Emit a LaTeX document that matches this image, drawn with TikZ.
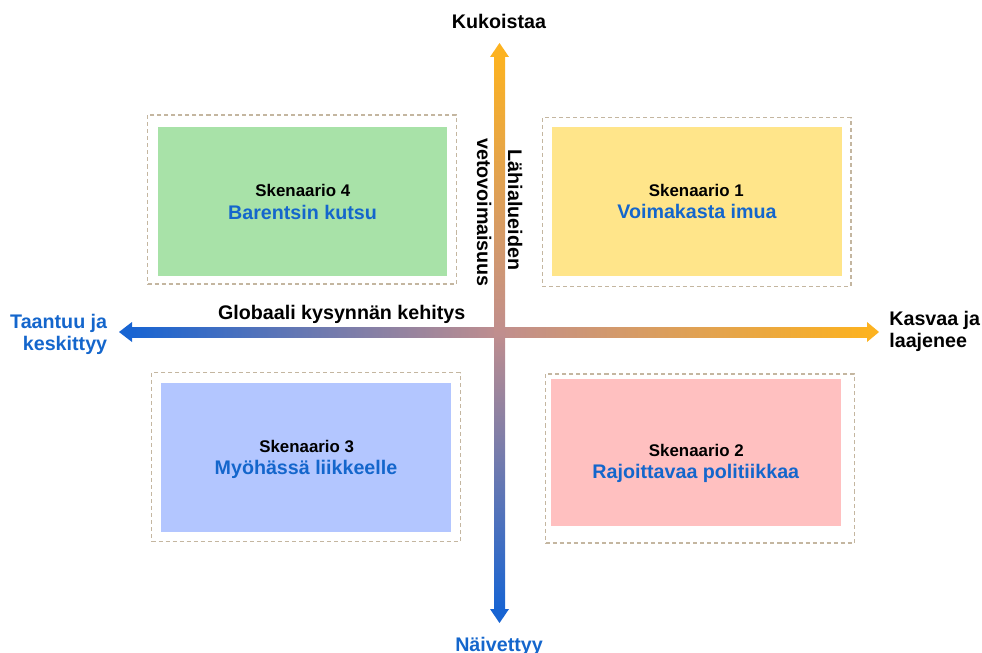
\documentclass[tikz,border=0pt]{standalone}
\usepackage{fontspec}
\setmainfont{Liberation Sans}
\usepackage{xcolor}
\usepackage{tikz}
\usetikzlibrary{calc}
\definecolor{axisorange}{RGB}{252, 178, 32}
\definecolor{axisblue}{RGB}{24, 100, 210}
\definecolor{axismid}{RGB}{192, 142, 142}
\definecolor{titleblue}{RGB}{20, 102, 204}
\definecolor{frametan}{RGB}{196, 182, 160}
\definecolor{scengreen}{RGB}{168, 226, 168}
\definecolor{scenyellow}{RGB}{255, 229, 138}
\definecolor{scenblue}{RGB}{179, 198, 255}
\definecolor{scenpink}{RGB}{255, 192, 192}
\tikzset{
    scenframe/.style={
        draw=frametan, line width=0.6pt, dash pattern=on 2.3pt off 1.7pt,
        minimum width=6.18cm, minimum height=3.38cm, inner sep=0pt
    },
    scenbox/.style={
        minimum width=5.80cm, minimum height=2.98cm, inner sep=0pt
    },
    scentag/.style={
        font=\bfseries\fontsize{9.6}{11}\selectfont, anchor=base, inner sep=0pt
    },
    scentitle/.style={
        font=\bfseries\fontsize{11.2}{13}\selectfont, text=titleblue, anchor=base, inner sep=0pt
    },
    axislabel/.style={
        font=\bfseries\fontsize{11.2}{12.5}\selectfont, inner sep=0pt
    }
}

\begin{document}
\begin{tikzpicture}[x=0.02cm, y=-0.02cm]
        \useasboundingbox (0,0) rectangle (982,652);

        % --- 1. SKENAARIOT ---
        \node[scenframe] (s4frame) at (302,199.5) {};
        \node[scenbox, fill=scengreen] (s4box) at (302.5,201.5) {};
        \node[scentag] (s4tag) at (302.8,196.7) {Skenaario 4};
        \node[scentitle] (s4title) at (302.5,219.3) {Barentsin kutsu};

        \node[scenframe] (s1frame) at (696.5,202) {};
        \node[scenbox, fill=scenyellow] (s1box) at (697,201.5) {};
        \node[scentag] (s1tag) at (696.3,196.7) {Skenaario 1};
        \node[scentitle] (s1title) at (697,218.3) {Voimakasta imua};

        \node[scenframe] (s3frame) at (306,457) {};
        \node[scenbox, fill=scenblue] (s3box) at (306,457.5) {};
        \node[scentag] (s3tag) at (306.7,452.7) {Skenaario 3};
        \node[scentitle] (s3title) at (306,474.3) {Myöhässä liikkeelle};

        \node[scenframe] (s2frame) at (700,458.5) {};
        \node[scenbox, fill=scenpink, minimum height=2.94cm] (s2box) at (696,452.5) {};
        \node[scentag] (s2tag) at (696.3,456) {Skenaario 2};
        \node[scentitle] (s2title) at (695.8,478.3) {Rajoittavaa politiikkaa};

        % --- 2. AKSELIT ---
        \coordinate (hleft) at (119,332);
        \coordinate (hright) at (879,332);
        \coordinate (vtop) at (499.5,43);
        \coordinate (vbot) at (499.5,623);

        % vaaka-akseli (sininen -> oranssi)
        \shade[left color=axisblue, right color=axisorange, middle color=axismid]
            ($(hleft)+(13,-5)$) rectangle ($(hright)+(-12,5)$);
        \fill[axisblue] (hleft) -- ++(13,-10) -- ++(0,20) -- cycle;
        \fill[axisorange] (hright) -- ++(-12,-10) -- ++(0,20) -- cycle;

        % pystyakseli (oranssi -> sininen)
        \shade[top color=axisorange, bottom color=axisblue, middle color=axismid]
            ($(vtop)+(-5.5,14)$) rectangle ($(vbot)+(5.5,-14)$);
        \fill[axisorange] (vtop) -- ++(-9.5,14) -- ++(19,0) -- cycle;
        \fill[axisblue] (vbot) -- ++(-9.5,-14) -- ++(19,0) -- cycle;

        % --- 3. AKSELIEN TEKSTIT ---
        \node[axislabel, anchor=base] (thrive) at (499,28.3) {Kukoistaa};
        \node[axislabel, anchor=base, text=titleblue] (wither) at (499,651) {Näivettyy};
        \node[axislabel, align=right, anchor=east, text=titleblue] (shrink) at (107.5,334.5) {Taantuu ja\\keskittyy};
        \node[axislabel, align=left, anchor=west] (grow) at (889,331.5) {Kasvaa ja\\laajenee};
        \node[axislabel, anchor=base] (demand) at (341.7,319.3) {Globaali kysynnän kehitys};
        \node[axislabel, rotate=-90, anchor=base] (lahi) at (508,210) {Lähialueiden};
        \node[axislabel, rotate=-90, anchor=base] (veto) at (477,212.5) {vetovoimaisuus};

    \end{tikzpicture}
\end{document}
